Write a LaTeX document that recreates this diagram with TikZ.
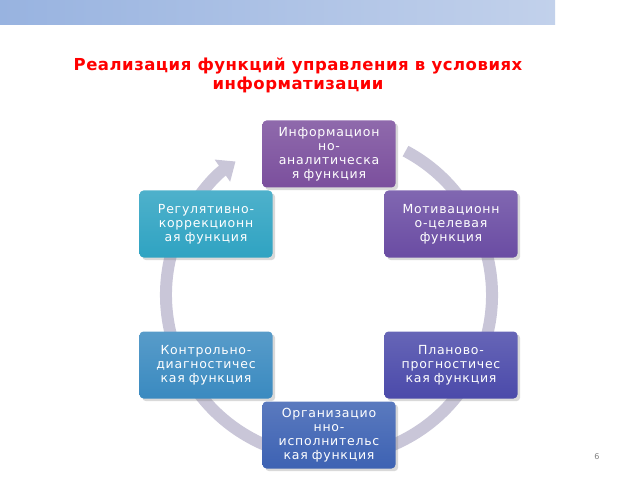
\documentclass[tikz,border=0pt]{standalone}
\usepackage{fontspec}
\setmainfont{DejaVu Sans}
\newfontfamily\boxfont[LetterSpace=6]{DejaVu Sans}
\newfontfamily\titlefont[LetterSpace=3]{DejaVu Sans}
\usetikzlibrary{arrows.meta,shadows}

\definecolor{barA}{HTML}{98B3E0}
\definecolor{barB}{HTML}{C2D1EB}
\definecolor{ring}{HTML}{C9C6D8}
\definecolor{cInfo}{HTML}{7B4F9D}
\definecolor{cMotiv}{HTML}{6A4CA3}
\definecolor{cPlan}{HTML}{4B4AAA}
\definecolor{cOrg}{HTML}{3D62B3}
\definecolor{cCtrl}{HTML}{3A8AC0}
\definecolor{cReg}{HTML}{2FA3C2}

\tikzset{
  func/.style={rounded corners=4pt, minimum width=133pt, minimum height=67pt,
    text width=130pt, align=center, text=white, inner sep=1pt,
    font=\boxfont\fontsize{12.5}{14}\selectfont,
    top color=#1!85!white, bottom color=#1, drop shadow={opacity=0.3}},
}

\begin{document}
\begin{tikzpicture}[x=1pt,y=1pt]
        \useasboundingbox (0,0) rectangle (640,480);
        \shade [left color=barA, right color=barB] (0,455) rectangle (555,480);
        \node (title) [text=red, font=\titlefont\bfseries\fontsize{16.5}{19}\selectfont, align=center] at (298,405)
          {Реализация функций управления в условиях\\информатизации};
        % the cycle
        \draw [ring, line width=12pt, -{Triangle[length=16pt,width=26pt]}]
          (329,185) ++(62:163) arc (62:-235:163);
        \node (info) [func=cInfo] at (329,326) {Информацион\\но-\\аналитическа\\я функция};
        \node (motiv) [func=cMotiv] at (451,256) {Мотивационн\\о-целевая\\функция};
        \node (plan) [func=cPlan] at (451,115) {Планово-\\прогностичес\\кая функция};
        \node (org) [func=cOrg] at (329,45) {Организацио\\нно-\\исполнительс\\кая функция};
        \node (ctrl) [func=cCtrl] at (206,115) {Контрольно-\\диагностичес\\кая функция};
        \node (reg) [func=cReg] at (206,256) {Регулятивно-\\коррекционн\\ая функция};
        \node (page) [text=gray, font=\footnotesize] at (597,23) {6};
\end{tikzpicture}
\end{document}
